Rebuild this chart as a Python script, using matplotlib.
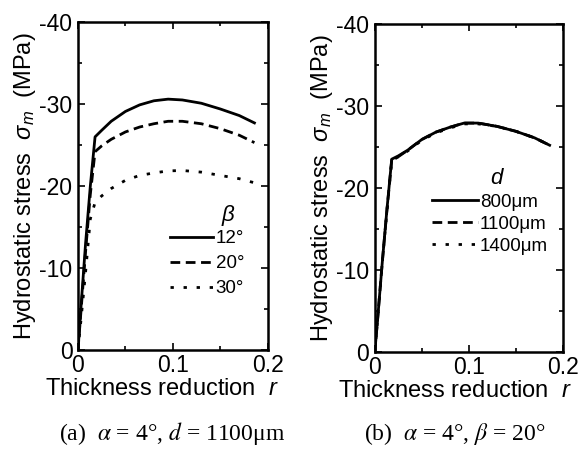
import matplotlib
matplotlib.use("Agg")
import matplotlib.pyplot as plt
from matplotlib.ticker import MultipleLocator

plt.rcParams['font.family'] = ['Liberation Sans', 'DejaVu Sans']
plt.rcParams['axes.unicode_minus'] = False
plt.rcParams['mathtext.fontset'] = 'custom'
plt.rcParams['mathtext.it'] = 'Liberation Sans:italic'
plt.rcParams['mathtext.rm'] = 'Liberation Sans'

# ---- data ----
r = [0, 0.003, 0.008, 0.013, 0.018, 0.025, 0.035, 0.05, 0.065, 0.08, 0.095,
     0.11, 0.13, 0.15, 0.17, 0.186]

beta_labels = ["12°", "20°", "30°"]
sig_b12 = [0, -5, -13, -20, -26, -26.8, -27.9, -29.1, -29.9, -30.4, -30.6,
           -30.5, -30.1, -29.4, -28.6, -27.7]
sig_b20 = [0, -4.5, -12, -19, -24.2, -24.9, -25.7, -26.6, -27.2, -27.6, -27.9,
           -27.9, -27.6, -27.0, -26.2, -25.3]
sig_b30 = [0, -3.5, -9.5, -16.0, -18.0, -18.8, -19.7, -20.7, -21.3, -21.6, -21.85,
           -21.9, -21.7, -21.3, -20.9, -20.4]

d_labels = ["800μm", "1100μm", "1400μm"]
sig_d800 = [0, -4, -11, -17.5, -23.5, -23.9, -24.6, -25.9, -26.8, -27.4, -27.9,
            -27.9, -27.5, -26.9, -26.1, -25.2]
sig_d1100 = [0, -4, -11, -17.4, -23.4, -23.8, -24.6, -25.9, -26.8, -27.4, -27.9,
             -27.9, -27.5, -26.9, -26.1, -25.2]
sig_d1400 = [0, -4, -11, -17.3, -23.3, -23.8, -24.5, -25.8, -26.7, -27.3, -27.8,
             -27.8, -27.5, -26.9, -26.1, -25.2]

styles = ['-', (0, (3.5, 2)), (0, (1.2, 3.5))]

fig = plt.figure(figsize=(5.82, 4.5), dpi=100)
axA = fig.add_axes([0.134, 0.222, 0.326, 0.729])
axB = fig.add_axes([0.644, 0.218, 0.323, 0.729])

def style_ax(ax, xlab_x):
    ax.set_xlim(0, 0.2)
    ax.set_ylim(0, -40)
    ax.xaxis.set_major_locator(MultipleLocator(0.1))
    ax.xaxis.set_minor_locator(MultipleLocator(0.05))
    ax.yaxis.set_major_locator(MultipleLocator(10))
    ax.yaxis.set_minor_locator(MultipleLocator(5))
    ax.set_xticks([0, 0.1, 0.2])
    ax.set_xticklabels(["0", "0.1", "0.2"])
    ax.tick_params(which='both', direction='in', top=True, right=True,
                   labelsize=16.5, width=1.2)
    ax.tick_params(axis='y', pad=4)
    ax.tick_params(axis='x', pad=3)
    ax.tick_params(which='major', length=5)
    ax.tick_params(which='minor', length=3)
    for s in ax.spines.values():
        s.set_linewidth(1.8)
    ax.set_xlabel(r"Thickness reduction  $\mathit{r}$", fontsize=17)
    ax.xaxis.set_label_coords(xlab_x, -0.085)
    ax.set_ylabel(r"Hydrostatic stress  $\mathit{\sigma_m}$  (MPa)", fontsize=17, labelpad=1)

# panel (a)
for ys, lab, ls in zip([sig_b12, sig_b20, sig_b30], beta_labels, styles):
    axA.plot(r, ys, color='black', lw=2, linestyle=ls, label=lab)
style_ax(axA, 0.44)
axA.legend(loc='upper left', bbox_to_anchor=(0.484, 0.365), frameon=False, fontsize=13.5,
           handlelength=2.3, handletextpad=0.15, labelspacing=0.42, borderpad=0,
           borderaxespad=0)
axA.text(0.79, 0.409, r"$\beta$", transform=axA.transAxes, fontsize=16,
         ha='center', va='center')

# panel (b)
for i, (ys, lab, ls) in enumerate(zip([sig_d800, sig_d1100, sig_d1400], d_labels, styles)):
    axB.plot(r, ys, color='black', lw=2, linestyle=ls, label=lab, zorder=5 - i)
style_ax(axB, 0.425)
axB.legend(loc='upper left', bbox_to_anchor=(0.303, 0.482), frameon=False, fontsize=13.5,
           handlelength=2.45, handletextpad=0.12, labelspacing=0.26, borderpad=0,
           borderaxespad=0)
axB.text(0.654, 0.53, r"$d$", transform=axB.transAxes, fontsize=16,
         ha='center', va='center')

# captions
serif = ['Liberation Serif', 'DejaVu Serif']
fig.text(172 / 582, 0.036, r"(a)  $\alpha$ = 4°, $d$ = 1100μm", fontsize=17,
         family=serif, ha='center', va='center', math_fontfamily='stix')
fig.text(455 / 582, 0.036, r"(b)  $\alpha$ = 4°, $\beta$ = 20°", fontsize=17,
         family=serif, ha='center', va='center', math_fontfamily='stix')

fig.savefig("out.png", dpi=100)
